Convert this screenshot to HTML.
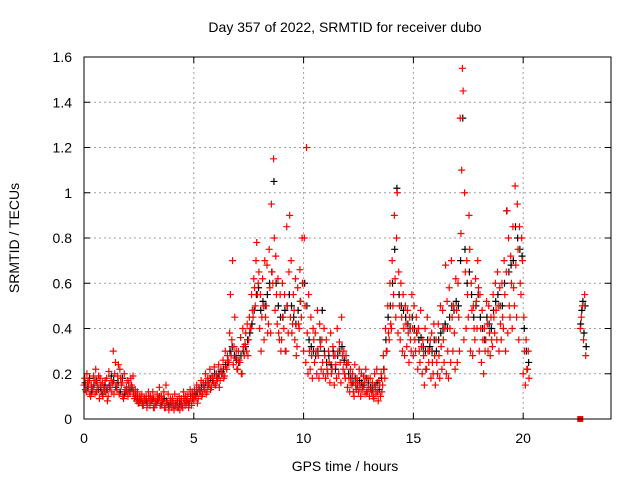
<!DOCTYPE html>
<html><head><meta charset="utf-8"><style>
html,body{margin:0;padding:0;background:#fff}
svg{display:block;font-family:"Liberation Sans",sans-serif}
</style></head><body>
<svg id="chart" width="640" height="480">
<text x="345" y="32" font-size="14" text-anchor="middle">Day 357 of 2022, SRMTID for receiver dubo</text>
<text x="345" y="471" font-size="14" text-anchor="middle">GPS time / hours</text>
<text x="19" y="238" font-size="14" text-anchor="middle" transform="rotate(-90 19 238)">SRMTID / TECUs</text>
<g id="grid"></g>
<g id="ticks"></g>
<g id="marks"></g>
<rect x="84" y="57" width="527" height="362" fill="none" stroke="#000" stroke-width="1"/>
</svg>
<script>
const xTicks=[0,5,10,15,20];
const yTicks=[0,0.2,0.4,0.6,0.8,1,1.2,1.4,1.6];
const yTickLabels=["0","0.2","0.4","0.6","0.8","1","1.2","1.4","1.6"];
const red1=[.15,.12,.14,.10,.13,.11,.16,.09,.12,.14,
.12,.10,.14,.16,.20,.13,.11,.15,.09,.12,
.10,.12,.14,.09,.08,.07,.09,.06,.08,.07,
.06,.08,.05,.07,.09,.06,.08,.05,.07,.06,
.05,.04,.06,.05,.07,.05,.06,.08,.07,.06,
.08,.10,.09,.12,.11,.13,.12,.15,.14,.16,
.15,.18,.17,.20,.19,.22,.25,.28,.24,.27,
.22,.25,.20,.28,.30,.35,.40,.45,.50,.55,
.40,.45,.35,.50,.42,.38,.60,.48,.42,.35,
.35,.40,.30,.38,.45,.42,.35,.32,.40,.45,
.30,.25,.20,.22,.18,.25,.20,.18,.22,.20,
.18,.20,.16,.22,.15,.18,.20,.16,.22,.18,
.14,.12,.15,.10,.13,.12,.10,.14,.11,.12,
.10,.12,.09,.11,.08,.10,.15,.18,.30,.35,
.40,.55,.45,.38,.35,.30,.28,.32,.25,.30,
.28,.30,.22,.25,.20,.15,.22,.25,.18,.20,
.15,.20,.18,.22,.25,.20,.18,.25,.30,.22,
.25,.30,1.10,.35,.40,.45,.30,.28,.35,.40,
.30,.25,.20,.35,.30,.28,.32,.38,.35,.30,
.35,.40,.30,.38,.45,.40,.50,.45,.35,.55,
.20,.15,.22];
const red2=[.18,.20,.17,.15,.19,.22,.14,.18,.16,.13,
.18,.21,.17,.30,.25,.19,.22,.16,.20,.14,
.16,.18,.19,.13,.12,.10,.11,.09,.10,.12,
.10,.12,.09,.11,.14,.10,.12,.15,.11,.09,
.09,.11,.08,.10,.09,.12,.10,.11,.13,.12,
.13,.15,.14,.17,.16,.20,.18,.22,.19,.23,
.20,.24,.22,.26,.30,.28,.38,.35,.32,.30,
.30,.36,.40,.33,.42,.45,.55,.62,.70,.60,
.55,.62,.70,.68,.75,.95,1.15,.72,.62,.55,
.60,.55,.85,.65,.70,.55,.62,.58,.66,.80,
.80,1.20,.55,.45,.40,.38,.48,.42,.35,.40,
.35,.30,.38,.32,.28,.40,.34,.45,.30,.28,
.25,.22,.20,.24,.18,.22,.20,.19,.22,.18,
.18,.16,.20,.22,.17,.20,.28,.40,.50,.60,
.70,.90,.80,.65,.60,.55,.50,.48,.45,.55,
.50,.45,.40,.48,.35,.40,.45,.30,.38,.42,
.35,.42,.50,.48,.40,.52,.58,.70,.50,.62,
.60,1.33,1.55,1.00,.70,.90,.60,.50,.62,.70,
.55,.48,.40,.52,.50,.45,.55,.60,.65,.58,
.60,.70,.65,.80,.72,.85,1.03,.95,.85,.80,
.45,.35,.30];
const red3=[.13,.16,.11,.14,.17,.12,.19,.15,.10,.17,
.08,.14,.12,.11,.15,.24,.18,.10,.13,.17,
.12,.15,.11,.10,.07,.08,.06,.08,.05,.09,
.08,.05,.07,.09,.06,.08,.05,.07,.04,.08,
.06,.07,.05,.04,.06,.08,.07,.05,.09,.10,
.10,.07,.12,.10,.14,.11,.16,.13,.18,.15,
.17,.14,.20,.18,.23,.26,.55,.70,.45,.22,
.26,.20,.32,.38,.28,.40,.48,.58,.78,.65,
.30,.50,.45,.38,.58,.65,.80,.55,.38,.30,
.45,.30,.50,.90,.38,.48,.28,.42,.52,.60,
.50,.38,.30,.28,.35,.30,.28,.32,.25,.28,
.22,.25,.20,.28,.24,.30,.25,.28,.20,.24,
.18,.16,.12,.15,.16,.14,.13,.16,.12,.14,
.13,.10,.14,.12,.15,.12,.22,.30,.38,.42,
.50,.62,1.00,.50,.45,.40,.42,.38,.35,.40,
.35,.38,.30,.32,.28,.22,.30,.35,.25,.28,
.25,.28,.32,.35,.68,.30,.40,.45,.38,.48,
.45,.82,1.45,.65,.55,.75,.48,.40,.52,.58,
.40,.35,.30,.42,.38,.35,.45,.48,.50,.42,
.45,.55,.92,.50,.60,.58,.68,.75,.60,.70,
.30,.22,.18];
const black=[.16,.14,.18,.12,.15,.17,.13,.14,.11,.15,
.13,.15,.19,.17,.14,.16,.12,.18,.11,.13,
.13,.14,.12,.10,.09,.08,.07,.09,.08,.10,
.08,.09,.07,.08,.10,.07,.09,.08,.06,.07,
.07,.06,.08,.07,.06,.09,.08,.07,.10,.09,
.11,.12,.13,.14,.15,.16,.15,.18,.17,.20,
.18,.20,.21,.22,.24,.25,.30,.32,.28,.26,
.25,.28,.30,.32,.35,.38,.42,.48,.55,.58,
.48,.52,.50,.55,.60,.65,1.05,.60,.50,.45,
.45,.48,.50,.55,.50,.45,.42,.48,.52,.60,
.60,.50,.35,.32,.30,.28,.30,.35,.48,.30,
.25,.28,.24,.30,.22,.28,.30,.32,.26,.24,
.20,.18,.16,.18,.15,.17,.16,.15,.18,.16,
.14,.13,.15,.16,.13,.18,.22,.35,.45,.50,
.60,.75,1.02,.55,.50,.48,.45,.42,.40,.45,
.40,.38,.35,.36,.32,.30,.35,.32,.30,.35,
.30,.35,.38,.40,.42,.40,.45,.50,.48,.52,
.50,.70,1.33,.75,.60,.65,.55,.45,.50,.55,
.45,.40,.35,.45,.42,.40,.48,.52,.55,.50,
.50,.60,.92,.65,.68,.70,.85,.80,.75,.72,
.40,.30,.25];
const lateTimes=[22.6,22.65,22.7,22.75,22.8,22.85];
const lateRed=[.40,.45,.50,.35,.55,.28];
const lateBlack=[.42,.48,.52,.38,.50,.32];
const zeroTimes=[22.6];
const zeroValues=[0];

const X0=84,X1=611,Y0=419,Y1=57,XMAX=24,YMAX=1.6;
const xs=t=>X0+(t/XMAX)*(X1-X0);
const ys=v=>Y0-(v/YMAX)*(Y0-Y1);
const NS="http://www.w3.org/2000/svg";
const grid=document.getElementById('grid'),ticks=document.getElementById('ticks'),marks=document.getElementById('marks');
function mk(tag,attrs,parent){const e=document.createElementNS(NS,tag);for(const k in attrs)e.setAttribute(k,attrs[k]);parent.appendChild(e);return e;}
yTicks.forEach((v,i)=>{
  const y=ys(v);
  if(i>0&&i<yTicks.length-1){const g=mk('line',{x1:X0,x2:X1,y1:y,y2:y,stroke:'#a0a0a0','stroke-dasharray':'2,3'},grid);
  
  }
  mk('line',{x1:X0,x2:X0+6,y1:y,y2:y,stroke:'#000'},ticks);
  mk('line',{x1:X1,x2:X1-6,y1:y,y2:y,stroke:'#000'},ticks);
  const t=mk('text',{x:X0-12,y:y+5,'font-size':14,'text-anchor':'end'},ticks);
  t.textContent=yTickLabels[i];
  
  
});
xTicks.forEach((v,i)=>{
  const x=xs(v);
  if(i>0){const g=mk('line',{x1:x,x2:x,y1:Y0,y2:Y1,stroke:'#a0a0a0','stroke-dasharray':'2,3'},grid);
  
  }
  mk('line',{x1:x,x2:x,y1:Y0,y2:Y0-6,stroke:'#000'},ticks);
  mk('line',{x1:x,x2:x,y1:Y1,y2:Y1+6,stroke:'#000'},ticks);
  const t=mk('text',{x:x,y:443,'font-size':14,'text-anchor':'middle'},ticks);
  t.textContent=String(v);
  
  
});
function plus(t,v,color,name){
  const x=xs(t),y=ys(v);
  const p=mk('path',{d:`M${x-3.5},${y}H${x+3.5}M${x},${y-3.5}V${y+3.5}`,stroke:color,'stroke-width':1.2,fill:'none'},marks);
  
  
}
black.forEach((v,i)=>plus(i*0.1+0.05,v,'#000','black-point'));
lateBlack.forEach((v,i)=>plus(lateTimes[i]+0.02,v,'#000','black-point'));
red1.forEach((v,i)=>plus(i*0.1,v,'#f00','red-point'));
red2.forEach((v,i)=>plus(i*0.1+0.033,v,'#f00','red-point'));
red3.forEach((v,i)=>plus(i*0.1+0.066,v,'#f00','red-point'));
lateRed.forEach((v,i)=>plus(lateTimes[i],v,'#f00','red-point'));
zeroValues.forEach((v,i)=>{
  const r=mk('rect',{x:xs(zeroTimes[i])-3,y:ys(v)-3,width:6,height:6,fill:'#f00'},marks);
  
  
});
</script>
</body></html>
